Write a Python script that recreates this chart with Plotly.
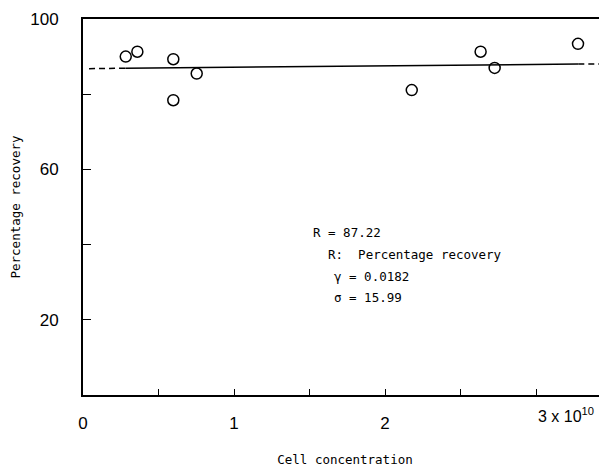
import plotly.graph_objects as go

# Data
cell_conc = [0.283, 0.36, 0.598, 0.598, 0.753, 2.177, 2.633, 2.726, 3.278]   # x 10^10
recovery = [90.0, 91.3, 89.3, 78.4, 85.5, 81.1, 91.3, 87.0, 93.4]

fit_solid_x = [0.28, 3.28]
fit_solid_y = [86.9, 88.0]
fit_left_x = [0.04, 0.28]
fit_left_y = [86.8, 86.9]
fit_right_x = [3.28, 3.5]
fit_right_y = [88.0, 88.1]

x_tickvals = [0, 0.5, 1, 1.5, 2, 2.5, 3]
x_ticktext = ["0", "", "1", "", "2", "", ""]
x_last_label = "3 x 10<sup>10</sup>"
y_tickvals = [20, 40, 60, 80, 100]
y_ticktext = ["20", "", "60", "", "100"]

stats_lines = ["R = 87.22", "R:  Percentage recovery", "γ = 0.0182", "σ = 15.99"]
stats_x = [1.51, 1.61, 1.65, 1.65]
stats_y = [43.3, 37.5, 31.6, 25.8]

mono = "DejaVu Sans Mono"
sans = "Liberation Sans"

fig = go.Figure()
fig.add_trace(go.Scatter(x=fit_left_x, y=fit_left_y, mode="lines",
                         line=dict(color="black", width=1.5, dash="6px,4px"), showlegend=False))
fig.add_trace(go.Scatter(x=fit_solid_x, y=fit_solid_y, mode="lines",
                         line=dict(color="black", width=1.5), showlegend=False))
fig.add_trace(go.Scatter(x=fit_right_x, y=fit_right_y, mode="lines",
                         line=dict(color="black", width=1.5, dash="6px,4px"), showlegend=False))
fig.add_trace(go.Scatter(x=cell_conc, y=recovery, mode="markers",
                         marker=dict(symbol="circle-open", size=11, color="black",
                                     line=dict(width=1.5, color="black")),
                         showlegend=False))

for t, x, y in zip(stats_lines, stats_x, stats_y):
    fig.add_annotation(x=x, y=y, text=t, showarrow=False, xanchor="left", yanchor="middle",
                       font=dict(family=mono, size=12.5, color="black"))

fig.add_annotation(x=3, y=0, yshift=-20, text=x_last_label, showarrow=False,
                   xanchor="left", yanchor="middle", font=dict(family=sans, size=16, color="black"))

# page body adds an 8px offset, so the figure is sized to end at the window edge
fig.update_layout(
    width=599, height=459,
    margin=dict(l=75, r=0, t=11, b=72, autoexpand=False),
    plot_bgcolor="white", paper_bgcolor="white",
    xaxis=dict(range=[0, 3.47], tickvals=x_tickvals, ticktext=x_ticktext,
               ticks="inside", ticklen=6, tickwidth=1.2, tickcolor="black",
               showline=True, linecolor="black", linewidth=1.5, mirror=True,
               showgrid=False, zeroline=False, automargin=False,
               ticklabelstandoff=12,
               tickfont=dict(family=sans, size=17, color="black"),
               title=dict(text="Cell concentration", font=dict(family=mono, size=12.5, color="black"),
                          standoff=26)),
    yaxis=dict(range=[0, 100], tickvals=y_tickvals, ticktext=y_ticktext,
               ticks="inside", ticklen=8, tickwidth=1.2, tickcolor="black",
               showline=True, linecolor="black", linewidth=2, mirror=False,
               showgrid=False, zeroline=False, automargin=False,
               ticklabelstandoff=19,
               tickfont=dict(family=sans, size=17, color="black"),
               title=dict(text="Percentage recovery", font=dict(family=mono, size=12.5, color="black"),
                          standoff=34)),
)

fig.write_html("out.html")
